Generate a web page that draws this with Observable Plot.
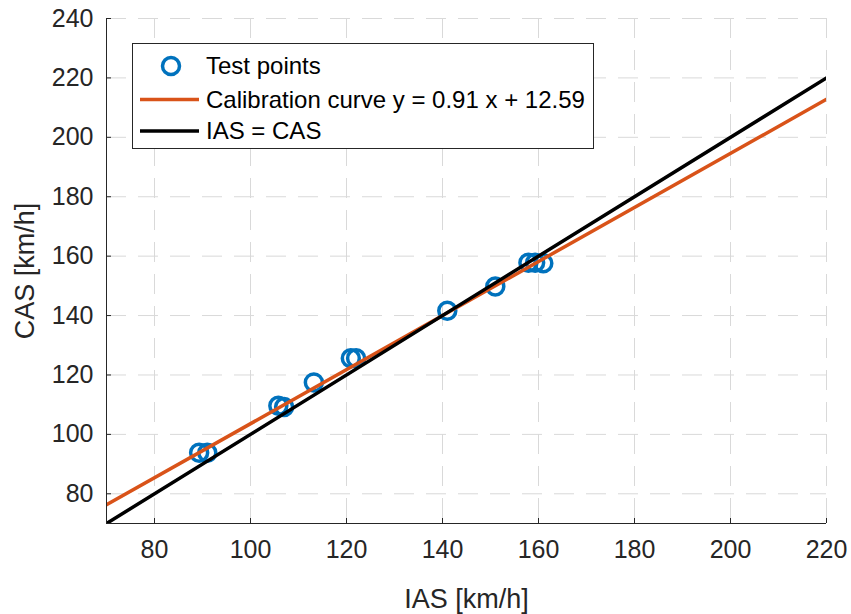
<!DOCTYPE html>
<html>
<head>
<meta charset="utf-8">
<script src="https://cdn.jsdelivr.net/npm/d3@7"></script>
<script src="https://cdn.jsdelivr.net/npm/@observablehq/plot@0.6"></script>
<style>
  html, body { margin: 0; padding: 0; background: #fff; }
  #chart { position: relative; width: 851px; height: 614px; }
</style>
</head>
<body>
<div id="chart"></div>
<script>
// Data
const iasPoints = [89.3, 91.0, 105.8, 107.0, 113.2, 120.9, 122.0, 141.0, 151.0, 157.9, 159.3, 161.0];
const casPoints = [93.8, 93.8, 109.6, 109.2, 117.5, 125.6, 125.6, 141.6, 149.8, 157.8, 157.8, 157.6];
const calibSlope = [0.91];
const calibIntercept = [12.59];
const xDomain = [70, 220];
const yDomain = [70, 240];
const xTicks = [80, 100, 120, 140, 160, 180, 200, 220];
const yTicks = [80, 100, 120, 140, 160, 180, 200, 220, 240];
const legendLabels = ["Test points", "Calibration curve y = 0.91 x + 12.59", "IAS = CAS"];
const xLabel = "IAS [km/h]";
const yLabel = "CAS [km/h]";

const points = iasPoints.map((x, i) => ({x, y: casPoints[i]}));
const calib = xDomain.map(x => ({x, y: calibSlope[0] * x + calibIntercept[0]}));
const ident = xDomain.map(x => ({x, y: x}));

const BLUE = "#0072BD", ORANGE = "#D95319", AXIS = "#262626";
const FONT = "'Liberation Sans', Arial, sans-serif";

const plot = Plot.plot({
  width: 851,
  height: 614,
  marginLeft: 106,
  marginRight: 25,
  marginTop: 18,
  marginBottom: 91,
  style: {fontFamily: FONT, background: "#fff"},
  x: {domain: xDomain, ticks: xTicks},
  y: {domain: yDomain, ticks: yTicks},
  marks: [
    Plot.gridX(xTicks, {stroke: "#d9d9d9", strokeOpacity: 1, strokeDasharray: "20,12"}),
    Plot.gridY(yTicks, {stroke: "#d9d9d9", strokeOpacity: 1, strokeDasharray: "20,12"}),
    Plot.dot(points, {x: "x", y: "y", r: 8.5, stroke: BLUE, strokeWidth: 3.5, fill: "none"}),
    Plot.line(calib, {x: "x", y: "y", stroke: ORANGE, strokeWidth: 3.5, clip: true}),
    Plot.line(ident, {x: "x", y: "y", stroke: "#000", strokeWidth: 3.5, clip: true}),
    Plot.ruleX([xDomain[0]], {stroke: AXIS, strokeWidth: 1}),
    Plot.ruleY([yDomain[0]], {stroke: AXIS, strokeWidth: 1}),
    Plot.axisX(xTicks, {tickSize: -5, tickPadding: 22, fontSize: 25, color: AXIS, stroke: AXIS,
      label: xLabel, labelAnchor: "center", labelOffset: 84, labelArrow: "none"}),
    Plot.axisY(yTicks, {tickSize: -5, tickPadding: 18, fontSize: 25, color: AXIS, stroke: AXIS,
      label: yLabel, labelAnchor: "center", labelOffset: 92, labelArrow: "none"})
  ]
});

d3.select(plot).selectAll("g[aria-label='x-axis label'] text, g[aria-label='y-axis label'] text")
  .attr("font-size", 27).attr("fill", AXIS);

document.getElementById("chart").appendChild(plot);

// Legend (inside the same SVG)
const svg = d3.select(plot);
const lg = svg.append("g").attr("font-family", FONT).attr("text-anchor", "start");
lg.append("rect").attr("x", 132.5).attr("y", 43.5).attr("width", 461).attr("height", 105)
  .attr("fill", "#fff").attr("stroke", AXIS).attr("stroke-width", 1);
const rowY = [66, 99.5, 131];
lg.append("circle").attr("cx", 171).attr("cy", rowY[0]).attr("r", 8.5)
  .attr("fill", "none").attr("stroke", BLUE).attr("stroke-width", 3.5);
lg.append("line").attr("x1", 140).attr("x2", 199).attr("y1", rowY[1]).attr("y2", rowY[1])
  .attr("stroke", ORANGE).attr("stroke-width", 3.5);
lg.append("line").attr("x1", 140).attr("x2", 199).attr("y1", rowY[2]).attr("y2", rowY[2])
  .attr("stroke", "#000").attr("stroke-width", 3.5);
legendLabels.forEach((t, i) => {
  lg.append("text").attr("x", 206).attr("y", rowY[i]).attr("dy", "0.35em")
    .attr("text-anchor", "start").attr("font-size", 24).attr("fill", "#000").text(t);
});
</script>
</body>
</html>
